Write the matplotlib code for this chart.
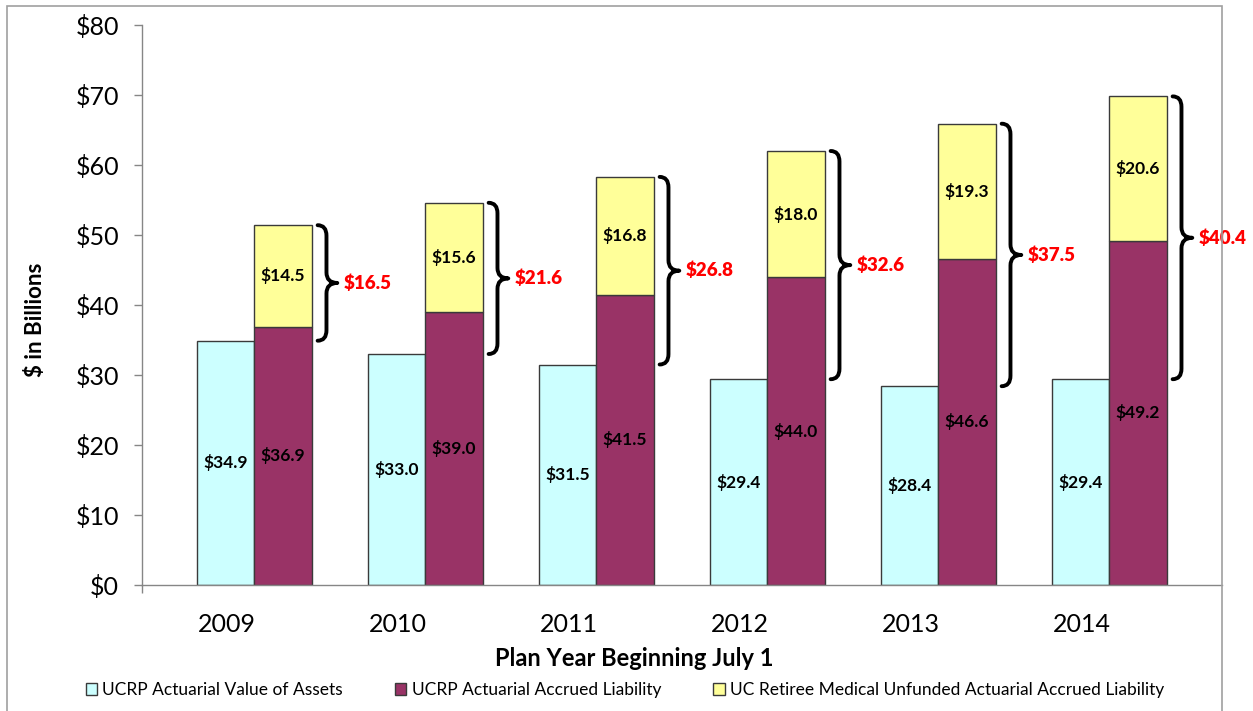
import matplotlib
matplotlib.use("Agg")
import matplotlib.pyplot as plt
from matplotlib.patches import Patch, Rectangle, PathPatch
from matplotlib.path import Path
import numpy as np

years = ['2009', '2010', '2011', '2012', '2013', '2014']
assets = [34.9, 33.0, 31.5, 29.4, 28.4, 29.4]
liability = [36.9, 39.0, 41.5, 44.0, 46.6, 49.2]
medical = [14.5, 15.6, 16.8, 18.0, 19.3, 20.6]
unfunded = [16.5, 21.6, 26.8, 32.6, 37.5, 40.4]
yticks = [0, 10, 20, 30, 40, 50, 60, 70, 80]
legend_labels = ['UCRP Actuarial Value of Assets', 'UCRP Actuarial Accrued Liability',
                 'UC Retiree Medical Unfunded Actuarial Accrued Liability']

C_ASSET = '#CCFFFF'
C_LIAB = '#993366'
C_MED = '#FFFF99'
EDGE = '#3a3a3a'
FONT = 'Lato'

plt.rcParams['font.family'] = [FONT, 'DejaVu Sans']

W, H = 1253, 711
fig = plt.figure(figsize=(W / 100, H / 100), dpi=100)
ax_l, ax_r, ax_b, ax_t = 141.5, 1222, 585, 25
ax = fig.add_axes([ax_l / W, 1 - ax_b / H, (ax_r - ax_l) / W, (ax_b - ax_t) / H])

x = np.arange(len(years))
bw = 0.335
off_a = -0.008
off_l = off_a + bw
ax.bar(x + off_a, assets, width=bw, color=C_ASSET, edgecolor=EDGE, linewidth=1.0, zorder=2)
ax.bar(x + off_l, liability, width=bw, color=C_LIAB, edgecolor=EDGE, linewidth=1.0, zorder=2)
ax.bar(x + off_l, medical, width=bw, bottom=liability, color=C_MED, edgecolor=EDGE, linewidth=1.0, zorder=2)

lab_kw = dict(ha='center', va='center', fontsize=12.5, fontweight='bold', color='black', zorder=4)
for i in range(len(years)):
    ax.text(x[i] + off_a, assets[i] / 2, f'${assets[i]:.1f}', **lab_kw)
    ax.text(x[i] + off_l, liability[i] / 2, f'${liability[i]:.1f}', **lab_kw)
    ax.text(x[i] + off_l, liability[i] + medical[i] / 2, f'${medical[i]:.1f}', **lab_kw)


def brace(ax, x0, y0, y1, w, r):
    xm = x0 + w * 0.45
    ym = (y0 + y1) / 2
    verts = [(x0, y1), (xm, y1), (xm, y1 - r),
             (xm, ym + r),
             (xm, ym), (x0 + w, ym),
             (xm, ym), (xm, ym - r),
             (xm, y0 + r),
             (xm, y0), (x0, y0)]
    codes = [Path.MOVETO, Path.CURVE3, Path.CURVE3,
             Path.LINETO,
             Path.CURVE3, Path.CURVE3,
             Path.CURVE3, Path.CURVE3,
             Path.LINETO,
             Path.CURVE3, Path.CURVE3]
    ax.add_patch(PathPatch(Path(verts, codes), fill=False, lw=2.8, edgecolor='black',
                           capstyle='round', joinstyle='round', zorder=3, clip_on=False))


for i in range(len(years)):
    top = liability[i] + medical[i]
    bot = assets[i]
    x0 = x[i] + 0.53
    brace(ax, x0, bot, top, 0.115, 1.5)
    ax.text(x0 + 0.15, (top + bot) / 2, f'${unfunded[i]:.1f}', ha='left', va='center',
            fontsize=13.5, fontweight='heavy', color='#FF0000', zorder=4, clip_on=False)

ax.set_xlim(-0.5, (ax_r - 227) / 171.0)
ax.set_ylim(0, 80)
ax.set_yticks(yticks)
ax.set_yticklabels([f'${v}' for v in yticks], fontsize=18)
ax.set_xticks(x)
ax.set_xticklabels(years, fontsize=18)
ax.set_xticks([-0.5], minor=True)
ax.tick_params(axis='x', which='major', length=0, pad=20)
ax.tick_params(axis='x', which='minor', length=6, width=1, color='#868686', direction='out')
ax.tick_params(axis='y', length=6, width=1, color='#868686', direction='out', pad=10)

for s in ['top', 'right']:
    ax.spines[s].set_visible(False)
for s in ['left', 'bottom']:
    ax.spines[s].set_color('#868686')
    ax.spines[s].set_linewidth(1.0)

ax.set_xlabel('Plan Year Beginning July 1', fontsize=17, fontweight='bold', va='center')
ax.xaxis.set_label_coords((634 - ax_l) / (ax_r - ax_l), (ax_b - 658) / (ax_b - ax_t))
ax.set_ylabel('$ in Billions', fontsize=16, fontweight='bold', va='center')
ax.yaxis.set_label_coords((35 - ax_l) / (ax_r - ax_l), (ax_b - 320) / (ax_b - ax_t))

handles = [Patch(facecolor=C_ASSET, edgecolor=EDGE), Patch(facecolor=C_LIAB, edgecolor=EDGE),
           Patch(facecolor=C_MED, edgecolor=EDGE)]
fig.legend(handles, legend_labels, loc='center', bbox_to_anchor=(625 / W, 1 - 690 / H),
           ncol=3, frameon=False, fontsize=12.5, handlelength=0.65, handleheight=0.65,
           handletextpad=0.3, columnspacing=3.0)

fig.add_artist(Rectangle((7 / W, -0.02), (1222 - 7) / W, 1 - 6 / H + 0.02,
                         transform=fig.transFigure, fill=False, edgecolor='#a0a0a0', lw=1.2))

fig.savefig('out.png', dpi=100)
